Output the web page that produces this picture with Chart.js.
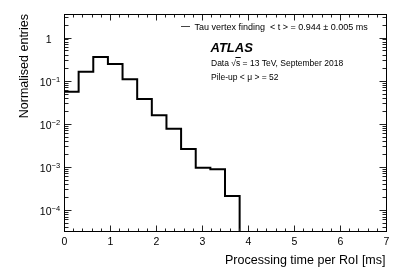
<!DOCTYPE html>
<html>
<head>
<meta charset="utf-8">
<script src="https://cdn.jsdelivr.net/npm/chart.js@4.4.0/dist/chart.umd.min.js"></script>
<style>
  html, body { margin: 0; padding: 0; background: #fff; }
  canvas { display: block; }
</style>
</head>
<body>
<canvas id="histo" width="407" height="276"></canvas>
<script>
// histogram binning (ROOT style: 22 bins from 0 to 7 ms)
const BIN_LOW = 0;
const BIN_HIGH = 7;
const N_BINS = 22;

// normalised entries per bin
const ENTRIES = [
  0.0553, 0.161, 0.353, 0.243, 0.107, 0.0374, 0.0157, 0.00765,
  0.00259, 0.000953, 0.000875, 0.00021, 0, 0, 0, 0, 0, 0, 0, 0, 0, 0,
];

const X_TICKS = [0, 1, 2, 3, 4, 5, 6, 7];
const Y_TICKS = [1, 1e-1, 1e-2, 1e-3, 1e-4];
const Y_TICK_EXP = ['', '\u22121', '\u22122', '\u22123', '\u22124'];

const Y_MIN = 3.24e-5;
const Y_MAX = 3.51;

const LEGEND_TEXT = 'Tau vertex finding  < t > = 0.944 \u00b1 0.005 ms';
const X_TITLE = 'Processing time per RoI [ms]';
const Y_TITLE = 'Normalised entries';

const FONT = "'Liberation Sans', Arial, sans-serif";

const binWidth = (BIN_HIGH - BIN_LOW) / N_BINS;
// empty bins: drop to the bottom of the log axis once, then leave a gap
const points = ENTRIES.map((v, i) => {
  let y = v;
  if (v <= 0) y = i > 0 && ENTRIES[i - 1] > 0 ? Y_MIN : null;
  return { x: BIN_LOW + i * binWidth, y };
});
points.push({ x: BIN_HIGH, y: ENTRIES[N_BINS - 1] > 0 ? ENTRIES[N_BINS - 1] : null });

/**
 * ROOT-like frame: box, inward ticks on all sides, labels, titles, text
 */
const rootFrame = {
  id: 'rootFrame',
  afterDatasetsDraw(chart) {
    const { ctx, chartArea: a } = chart;
    const xs = chart.scales.x;
    const ys = chart.scales.y;
    const L = Math.round(a.left) + 0.5;
    const R = Math.round(a.right) + 0.5;
    const T = Math.round(a.top) + 0.5;
    const B = Math.round(a.bottom) + 0.5;

    ctx.save();
    ctx.strokeStyle = '#222';
    ctx.lineWidth = 1;

    // x ticks, minor every 0.2
    ctx.beginPath();
    for (let i = 0; i <= 35; i++) {
      const v = i * 0.2;
      const px = Math.round(xs.getPixelForValue(v)) + 0.5;
      const len = i % 5 === 0 ? 6 : 3;
      ctx.moveTo(px, B); ctx.lineTo(px, B - len);
      ctx.moveTo(px, T); ctx.lineTo(px, T + len);
    }
    // y ticks, log minors
    for (let e = -5; e <= 0; e++) {
      for (let m = 1; m <= 9; m++) {
        const v = m * Math.pow(10, e);
        if (v < Y_MIN || v > Y_MAX) continue;
        const py = Math.round(ys.getPixelForValue(v)) + 0.5;
        const len = m === 1 ? 7 : 4;
        ctx.moveTo(L, py); ctx.lineTo(L + len, py);
        ctx.moveTo(R, py); ctx.lineTo(R - len, py);
      }
    }
    ctx.stroke();

    // frame
    ctx.strokeStyle = '#000';
    ctx.strokeRect(L, T, R - L, B - T);

    // x tick labels
    ctx.fillStyle = '#000';
    ctx.font = `10.5px ${FONT}`;
    ctx.textAlign = 'center';
    ctx.textBaseline = 'alphabetic';
    X_TICKS.forEach((v) => {
      ctx.fillText(String(v), xs.getPixelForValue(v) + 0.5, 244.5);
    });

    // y tick labels with superscript exponents
    Y_TICKS.forEach((v, i) => {
      const py = ys.getPixelForValue(v);
      ctx.textAlign = 'right';
      ctx.font = `10.5px ${FONT}`;
      const base = i === 0 ? '1' : '10';
      ctx.fillText(base, 51.5, py + 5.5);
      if (Y_TICK_EXP[i]) {
        ctx.textAlign = 'left';
        ctx.font = `7.5px ${FONT}`;
        ctx.fillText(Y_TICK_EXP[i], 51.5, py + 1.5);
      }
    });

    // axis titles
    ctx.font = `12.5px ${FONT}`;
    ctx.textAlign = 'right';
    ctx.fillText(X_TITLE, 385.5, 264);
    ctx.save();
    ctx.translate(27.5, 14);
    ctx.rotate(-Math.PI / 2);
    ctx.fillText(Y_TITLE, 0, 0);
    ctx.restore();

    // legend
    ctx.strokeStyle = '#444';
    ctx.beginPath();
    ctx.moveTo(181, 26.5); ctx.lineTo(190, 26.5);
    ctx.stroke();
    ctx.textAlign = 'left';
    ctx.font = `9px ${FONT}`;
    ctx.fillText(LEGEND_TEXT, 194.5, 29.5);

    // ATLAS label
    ctx.font = `italic bold 13px ${FONT}`;
    ctx.fillText('ATLAS', 210.5, 52.3);

    // data / pile-up text
    ctx.font = `8.5px ${FONT}`;
    let x = 211;
    ctx.fillText('Data ', x, 65.5);
    x += ctx.measureText('Data ').width;
    ctx.fillText('\u221a', x, 65.5);
    x += ctx.measureText('\u221a').width;
    const sW = ctx.measureText('s').width;
    ctx.fillText('s', x, 65.5);
    ctx.beginPath();
    ctx.moveTo(x - 0.5, 57.5); ctx.lineTo(x + sW + 0.5, 57.5);
    ctx.strokeStyle = '#000';
    ctx.stroke();
    x += sW;
    ctx.fillText(' = 13 TeV, September 2018', x, 65.5);
    ctx.fillText('Pile-up < \u03bc > = 52', 211, 79.5);

    ctx.restore();
  },
};

new Chart(document.getElementById('histo'), {
  type: 'line',
  data: {
    datasets: [
      {
        data: points,
        borderColor: '#000',
        borderWidth: 2,
        stepped: 'before',
        pointRadius: 0,
        fill: false,
        tension: 0,
        spanGaps: false,
      },
    ],
  },
  options: {
    responsive: false,
    animation: false,
    devicePixelRatio: 1,
    layout: { padding: { left: 64, right: 21, top: 14, bottom: 45 } },
    plugins: { legend: { display: false }, tooltip: { enabled: false } },
    scales: {
      x: { type: 'linear', min: BIN_LOW, max: BIN_HIGH, display: false },
      y: { type: 'logarithmic', min: Y_MIN, max: Y_MAX, display: false },
    },
  },
  plugins: [rootFrame],
});
</script>
</body>
</html>
